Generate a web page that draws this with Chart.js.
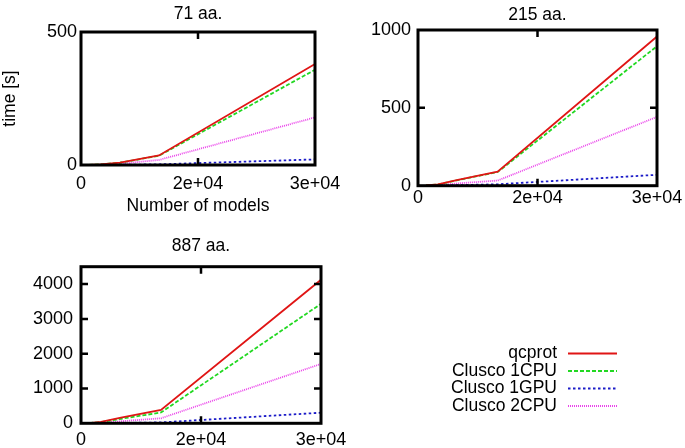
<!DOCTYPE html>
<html>
<head>
<meta charset="utf-8">
<script src="https://cdn.jsdelivr.net/npm/chart.js@4.4.0/dist/chart.umd.min.js"></script>
<title>Clusco timings</title>
<style>
    body { margin: 0; background: #fff; }
    canvas { position: absolute; }
</style>
</head>
<body>
<canvas id="chart_71" width="340" height="220" style="left:0px; top:0px"></canvas>
<canvas id="chart_215" width="345" height="220" style="left:340px; top:0px"></canvas>
<canvas id="chart_887" width="685" height="228" style="left:0px; top:220px"></canvas>

<script>
// number of models on the x axis
var models = [1000, 2500, 5000, 10000, 30000];
var seriesNames = ["qcprot", "Clusco 1CPU", "Clusco 1GPU", "Clusco 2CPU"];
var xTickValues = [0, 15000, 30000];
var xTickLabels = ["0", "2e+04", "3e+04"];

// 71 aa.
var qcprot71 = [0.4, 2.5, 9, 36, 380];
var cpu1_71 = [0.4, 2.3, 8.5, 35, 358];
var gpu1_71 = [0.05, 0.3, 0.9, 2.5, 21];
var cpu2_71 = [0.2, 1.2, 5, 19, 179];
var yTicks71 = [0, 500];

// 215 aa.
var qcprot215 = [2, 8, 38, 90, 958];
var cpu1_215 = [2, 7.5, 36, 88, 896];
var gpu1_215 = [0.3, 1, 3.5, 9, 70];
var cpu2_215 = [1, 4, 15, 33, 442];
var yTicks215 = [0, 500, 1000];

// 887 aa.
var qcprot887 = [8, 40, 160, 383, 4124];
var cpu1_887 = [7, 33, 130, 310, 3433];
var gpu1_887 = [1, 3, 10, 25, 305];
var cpu2_887 = [3, 14, 60, 144, 1706];
var yTicks887 = [0, 1000, 2000, 3000, 4000];

var lineColors = ["#e01515", "#22d822", "#1c1cc8", "#ea44ea"];
var lineDashes = [[], [4, 2], [2.5, 2.5], [1, 1]];

Chart.defaults.font.family = "'Liberation Sans', Arial, Helvetica, sans-serif";
Chart.defaults.color = "#000";

// gnuplot style box with inward ticks on all four sides
var frame = {
    id: "frame",
    afterDatasetsDraw: function(chart) {
        var a = chart.chartArea, ctx = chart.ctx;
        var xs = chart.scales.x, ys = chart.scales.y;
        ctx.save();
        ctx.setLineDash([]);
        ctx.strokeStyle = "#000";
        ctx.lineWidth = 2.5;
        xs.ticks.forEach(function(t) {
            var px = xs.getPixelForValue(t.value);
            if (px <= a.left + 1 || px >= a.right - 1) return;
            ctx.beginPath();
            ctx.moveTo(px, a.bottom); ctx.lineTo(px, a.bottom - 7);
            ctx.moveTo(px, a.top); ctx.lineTo(px, a.top + 7);
            ctx.stroke();
        });
        ys.ticks.forEach(function(t) {
            var py = ys.getPixelForValue(t.value);
            if (py <= a.top + 1 || py >= a.bottom - 1) return;
            ctx.beginPath();
            ctx.moveTo(a.left, py); ctx.lineTo(a.left + 7, py);
            ctx.moveTo(a.right, py); ctx.lineTo(a.right - 7, py);
            ctx.stroke();
        });
        ctx.lineWidth = 3;
        ctx.strokeRect(a.left, a.top, a.right - a.left, a.bottom - a.top);
        ctx.restore();
    }
};

// legend at the lower right, text to the left of the line sample
var sideLegend = {
    id: "sideLegend",
    afterDraw: function(chart) {
        var ctx = chart.ctx;
        var rows = [133.5, 151, 168.5, 186];
        ctx.save();
        ctx.font = "17.5px 'Liberation Sans', Arial, sans-serif";
        ctx.textAlign = "right";
        ctx.textBaseline = "middle";
        chart.data.datasets.forEach(function(ds, i) {
            ctx.fillStyle = "#000";
            ctx.fillText(ds.label, 557, rows[i]);
            ctx.strokeStyle = ds.borderColor;
            ctx.lineWidth = ds.borderWidth;
            ctx.setLineDash(ds.borderDash);
            ctx.beginPath();
            ctx.moveTo(568, rows[i]);
            ctx.lineTo(617, rows[i]);
            ctx.stroke();
        });
        ctx.restore();
    }
};

function makeChart(id, cfg) {
    var datasets = cfg.series.map(function(vals, i) {
        return {
            label: seriesNames[i],
            data: models.map(function(m, j) { return {x: m, y: vals[j]}; }),
            borderColor: lineColors[i],
            borderDash: lineDashes[i],
            borderWidth: 1.8,
            pointRadius: 0,
            tension: 0,
            fill: false
        };
    });
    return new Chart(document.getElementById(id), {
        type: "line",
        data: {datasets: datasets},
        options: {
            responsive: false,
            animation: false,
            devicePixelRatio: 1,
            layout: {padding: {left: 0, right: cfg.padRight, top: 0, bottom: 0}},
            plugins: {
                legend: {display: false},
                tooltip: {enabled: false},
                title: {
                    display: true,
                    fullSize: false,
                    text: cfg.title,
                    color: "#000",
                    font: {size: 17.5, weight: "normal"},
                    padding: {top: cfg.titleTop, bottom: cfg.titleBottom}
                }
            },
            scales: {
                x: {
                    type: "linear",
                    min: 0,
                    max: 30000,
                    grid: {display: false, drawTicks: false},
                    border: {display: false},
                    afterBuildTicks: function(s) {
                        s.ticks = xTickValues.map(function(v) { return {value: v}; });
                    },
                    afterFit: function(s) {
                        s.height = cfg.xHeight;
                        s.paddingLeft = 0;
                        s.paddingRight = 0;
                    },
                    ticks: {
                        color: "#000",
                        font: {size: 18},
                        padding: cfg.xPad,
                        maxRotation: 0,
                        autoSkip: false,
                        callback: function(v) { return xTickLabels[xTickValues.indexOf(v)]; }
                    },
                    title: cfg.xTitle ? {
                        display: true, text: cfg.xTitle, color: "#000",
                        font: {size: 17.5}, padding: {top: 0, bottom: 3}
                    } : {display: false}
                },
                y: {
                    type: "linear",
                    min: 0,
                    max: cfg.yMax,
                    grid: {display: false, drawTicks: false},
                    border: {display: false},
                    afterBuildTicks: function(s) {
                        s.ticks = cfg.yTicks.map(function(v) { return {value: v}; });
                    },
                    afterFit: function(s) {
                        s.width = cfg.yWidth;
                        s.paddingTop = 0;
                        s.paddingBottom = 0;
                    },
                    ticks: {
                        color: "#000",
                        font: {size: 18},
                        padding: cfg.yPad,
                        autoSkip: false,
                        callback: function(v) { return String(v); }
                    },
                    title: cfg.yTitle ? {
                        display: true, text: cfg.yTitle, color: "#000",
                        font: {size: 17.5}, padding: {top: 0, bottom: 0}
                    } : {display: false}
                }
            }
        },
        plugins: cfg.extra ? [frame, cfg.extra] : [frame]
    });
}

makeChart("chart_71", {
    title: "71 aa.",
    series: [qcprot71, cpu1_71, gpu1_71, cpu2_71],
    yTicks: yTicks71, yMax: 500,
    padRight: 25, titleTop: 3.5, titleBottom: 7.5,
    xHeight: 55, xPad: 8, yWidth: 81, yPad: 4,
    xTitle: "Number of models", yTitle: "time [s]"
});

makeChart("chart_215", {
    title: "215 aa.",
    series: [qcprot215, cpu1_215, gpu1_215, cpu2_215],
    yTicks: yTicks215, yMax: 1000,
    padRight: 28, titleTop: 4.5, titleBottom: 4.5,
    xHeight: 34.3, xPad: 1.5, yWidth: 78, yPad: 7
});

makeChart("chart_887", {
    title: "887 aa.",
    series: [qcprot887, cpu1_887, gpu1_887, cpu2_887],
    yTicks: yTicks887, yMax: 4500,
    padRight: 364, titleTop: 15.2, titleBottom: 10.5,
    xHeight: 24.7, xPad: 6, yWidth: 81, yPad: 8,
    extra: sideLegend
});
</script>
</body>
</html>
